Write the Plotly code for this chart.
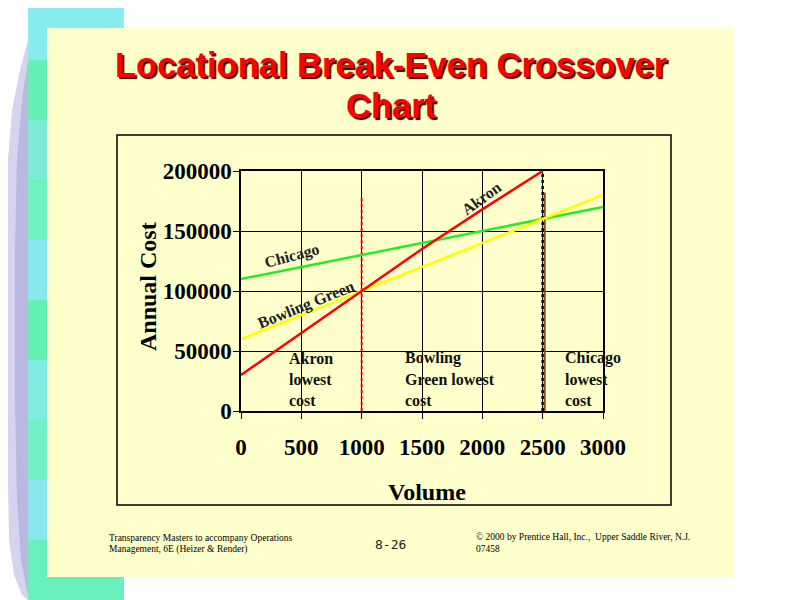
import plotly.graph_objects as go

# ---- data ----
volume = [0, 500, 1000, 1500, 2000, 2500, 3000]
akron_volume = [0, 500, 1000, 1500, 2000, 2500]
akron_cost = [30000, 65000, 100000, 135000, 168000, 200000]
bowling_green_cost = [60000, 80000, 100000, 120000, 140000, 160000, 180000]
chicago_cost = [110000, 120000, 130000, 140000, 150000, 160000, 170000]

x_ticks = [0, 500, 1000, 1500, 2000, 2500, 3000]
x_tick_labels = ["0", "500", "1000", "1500", "2000", "2500", "3000"]
y_ticks = [0, 50000, 100000, 150000, 200000]
y_tick_labels = ["0", "50000", "100000", "150000", "200000"]

crossover_1 = 1000
crossover_2 = 2500

# page body has an 8px margin; figure sized to fit the 800x600 window
OFF = 8
W, H = 800 - OFF, 600 - OFF
def px(x):
    return (x - OFF) / W
def py(y):
    return 1 - (y - OFF) / H

SERIF = "Times New Roman, Liberation Serif, serif"
SANS = "Arial, Liberation Sans, sans-serif"

fig = go.Figure()

# vertical break-even markers
fig.add_trace(go.Scatter(x=[crossover_1, crossover_1], y=[0, 177500], mode="lines",
                         line=dict(color="#ff0000", width=2, dash="dot"), hoverinfo="skip"))
fig.add_trace(go.Scatter(x=[crossover_2 + 17, crossover_2 + 17], y=[0, 182000], mode="lines",
                         line=dict(color="#8a4a1a", width=2), hoverinfo="skip"))
fig.add_trace(go.Scatter(x=[crossover_2, crossover_2], y=[0, 200000], mode="lines",
                         line=dict(color="#000000", width=2.5, dash="dot"), hoverinfo="skip"))

# cost lines
fig.add_trace(go.Scatter(x=volume, y=chicago_cost, mode="lines", name="Chicago",
                         line=dict(color="#22ee22", width=2.5)))
fig.add_trace(go.Scatter(x=volume, y=bowling_green_cost, mode="lines", name="Bowling Green",
                         line=dict(color="#ffff00", width=2.5)))
fig.add_trace(go.Scatter(x=akron_volume, y=akron_cost, mode="lines", name="Akron",
                         line=dict(color="#ff0000", width=2.5)))

shapes = []
# teal decorative strip
strip_cols = ["#86ecec", "#66f0b4", "#7cecd8", "#6ef2c0", "#88e8ee", "#64f0b0", "#80ece0", "#70f0c4", "#8ae6ee", "#6af0bc"]
n = len(strip_cols)
for i, c in enumerate(strip_cols):
    shapes.append(dict(type="rect", xref="paper", yref="paper", layer="below",
                       x0=px(28), x1=px(124), y0=py(i * 600 / n), y1=py((i + 1) * 600 / n),
                       fillcolor=c, line=dict(width=0)))
# lavender curved edge
def ppath(pts):
    s = "M {:.4f} {:.4f}".format(px(pts[0][0]), py(pts[0][1]))
    for (x, y) in pts[1:]:
        s += " L {:.4f} {:.4f}".format(px(x), py(y))
    return s + " Z"
lav = [(28, 40), (20, 70), (12, 110), (8, 160), (8, 220), (8, 300), (8, 400), (8, 480), (9, 540), (14, 575), (22, 595), (28, 600)]
shapes.append(dict(type="path", xref="paper", yref="paper", layer="below",
                   path=ppath(lav), fillcolor="#d4d4ee", line=dict(width=0)))
lav2 = [(28, 60), (22, 100), (17, 160), (15, 250), (15, 400), (17, 500), (21, 560), (28, 595)]
shapes.append(dict(type="path", xref="paper", yref="paper", layer="below",
                   path=ppath(lav2), fillcolor="#b8b8e0", line=dict(width=0)))
# yellow slide panel
shapes.append(dict(type="rect", xref="paper", yref="paper", layer="below",
                   x0=px(47), x1=px(733), y0=py(28), y1=py(577),
                   fillcolor="#ffffcc", line=dict(width=0)))
# chart box
shapes.append(dict(type="rect", xref="paper", yref="paper", layer="below",
                   x0=px(117), x1=px(671), y0=py(135), y1=py(505),
                   fillcolor="#ffffcc", line=dict(color="#000000", width=1.5)))

def A(text, x, y, font, xanchor="center", yanchor="middle", angle=0, align="center"):
    return dict(text=text, x=px(x), y=py(y), xref="paper", yref="paper",
                xanchor=xanchor, yanchor=yanchor, textangle=angle, align=align,
                showarrow=False, font=font)

ann = []
title_font = dict(family=SANS, size=34.5, color="#ff0000", weight="bold",
                  shadow="2px 2px 1px #300000")
ann.append(A("Locational Break-Even Crossover", 391, 65, title_font))
ann.append(A("Chart", 391, 106, title_font))
# axis titles
axis_font = dict(family=SERIF, size=24, color="#000000", weight="bold")
ann.append(A("Annual Cost", 148, 287, axis_font, angle=-90))
ann.append(A("Volume", 427, 492, axis_font))
# line labels
lab_font = dict(family=SERIF, size=16, color="#202020", weight="bold")
ann.append(A("Chicago", 292, 256, lab_font, angle=-15))
ann.append(A("Bowling Green", 306, 305, lab_font, angle=-22))
ann.append(A("Akron", 481, 198, lab_font, angle=-36))
# region labels
reg_font = dict(family=SERIF, size=16, color="#111111", weight="bold")
for x0, lines in [(287, ["Akron", "lowest", "cost"]),
                  (403, ["Bowling", "Green lowest", "cost"]),
                  (563, ["Chicago", "lowest", "cost"])]:
    for k, t in enumerate(lines):
        ann.append(A(t, x0, 358 + 21 * k, reg_font, xanchor="left"))
# footer
foot_font = dict(family=SERIF, size=9.5, color="#000000")
ann.append(A("Transparency Masters to accompany Operations", 107, 538, foot_font, xanchor="left"))
ann.append(A("Management, 6E (Heizer & Render)", 107, 549, foot_font, xanchor="left"))
ann.append(A("8-26", 390, 544, dict(family="DejaVu Sans Mono, monospace", size=13, color="#222222")))
ann.append(A("© 2000 by Prentice Hall, Inc.,  Upper Saddle River, N.J.", 474, 537, foot_font, xanchor="left"))
ann.append(A("07458", 474, 549, foot_font, xanchor="left"))

tickfont = dict(family=SERIF, size=23, color="#000000", weight="bold")
fig.update_layout(
    width=W, height=H,
    autosize=False,
    margin=dict(l=0, r=0, t=0, b=0, pad=0, autoexpand=False),
    paper_bgcolor="#ffffff",
    plot_bgcolor="rgba(0,0,0,0)",
    showlegend=False,
    shapes=shapes,
    annotations=ann,
    xaxis=dict(domain=[px(241), px(603)], range=[0, 3000], tickvals=x_ticks, ticktext=x_tick_labels,
               showgrid=True, gridcolor="#000000", gridwidth=1, zeroline=False, automargin=False,
               showline=True, linecolor="#000000", linewidth=1.5, mirror=True,
               ticks="outside", ticklen=6, tickcolor="#000000", tickfont=tickfont,
               ticklabelstandoff=9),
    yaxis=dict(domain=[py(411), py(171)], range=[0, 200000], tickvals=y_ticks, ticktext=y_tick_labels,
               showgrid=True, gridcolor="#000000", gridwidth=1, zeroline=False, automargin=False,
               showline=True, linecolor="#000000", linewidth=1.5, mirror=True,
               ticks="outside", ticklen=6, tickcolor="#000000", tickfont=tickfont,
               ticklabelstandoff=-3),
)

fig.write_html("out.html")
